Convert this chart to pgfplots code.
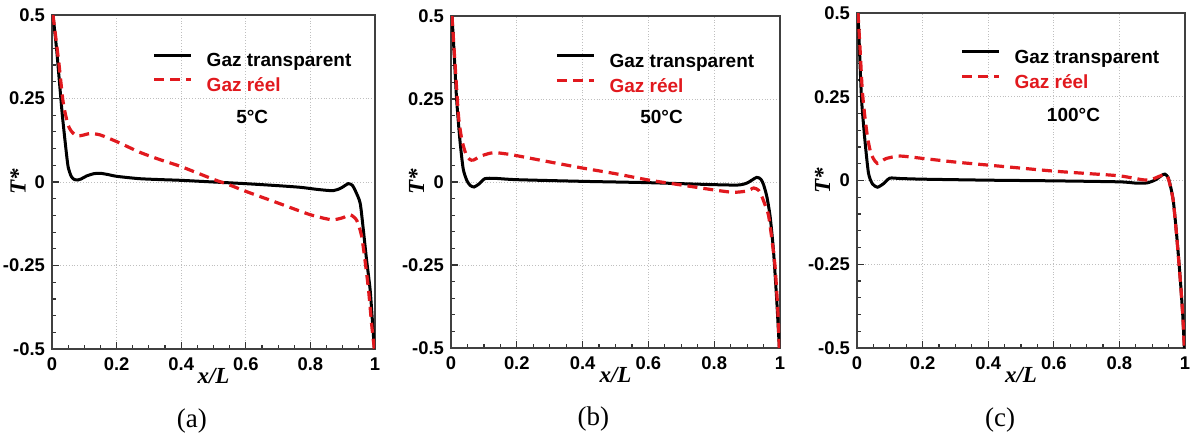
\documentclass[border=0pt]{standalone}
\usepackage{fontspec}
\setmainfont{Liberation Serif}
\setsansfont{Liberation Sans}
\usepackage{pgfplots}
\pgfplotsset{compat=1.18}
\definecolor{gazred}{RGB}{225,25,30}

\newcommand\tickfont{\sffamily\bfseries\fontsize{9.2}{10}\selectfont}
\newcommand\legfont{\sffamily\bfseries\fontsize{9.5}{11}\selectfont}
\newcommand\capfont{\fontsize{13.5}{15}\selectfont}

\pgfplotsset{
  panel/.style={
    scale only axis,
    xmin=0, xmax=1, ymin=-0.5, ymax=0.5,
    xtick={0,0.2,0.4,0.6,0.8,1},
    xticklabels={0,0.2,0.4,0.6,0.8,1},
    ytick={-0.5,-0.25,0,0.25,0.5},
    yticklabels={-0.5,-0.25,0,0.25,0.5},
    minor x tick num=3, minor y tick num=4,
    tick align=inside, xtick pos=bottom, ytick pos=left,
    major tick length=3.5pt, minor tick length=2pt,
    tick style={black!80, line width=0.6pt},
    axis line style={black!75, line width=1pt},
    grid=major, grid style={densely dotted, gray!50, line width=0.4pt},
    tick label style={font=\tickfont},
    xticklabel style={yshift=-1pt},
    xlabel={\bfseries\itshape x/L},
    ylabel={\bfseries\itshape T*},
    label style={font=\fontsize{11.5}{13}\selectfont},
    xlabel style={at={(axis description cs:0.5,0)}, anchor=center, yshift=-13.5pt},
    ylabel style={at={(axis description cs:-0.105,0.5)}, anchor=center},
    legend cell align=left,
    legend image code/.code={\draw[##1] (0pt,3.3pt) -- (18.5pt,3.3pt);},
    legend style={draw=none, fill=none, inner sep=0pt, row sep=4pt,
      column sep=7pt, font=\legfont, nodes={inner sep=0pt}},
    blk/.style={black, line width=1.5pt, smooth, tension=0.4},
    rd/.style={gazred, line width=1.6pt, dash pattern=on 5pt off 3pt, smooth, tension=0.4},
  }
}

\begin{document}
\begin{tikzpicture}
\useasboundingbox (-26pt,-46pt) rectangle (570pt,174.5pt);

% (a) 5 C
\begin{axis}[panel, at={(0pt,0pt)}, width=161.5pt, height=167pt,
    legend style={at={(0.31,0.886)}, anchor=north west},
    extra description/.code={\node[font=\capfont] at (0.433,-0.215) {(a)};}]
\addplot[blk] coordinates {
(0.003,0.5) (0.014,0.4) (0.023,0.3) (0.032,0.2) (0.043,0.1) (0.05,0.045)
(0.06,0.016) (0.07,0.007) (0.08,0.006) (0.09,0.009) (0.107,0.018) (0.13,0.025)
(0.15,0.026) (0.175,0.022) (0.2,0.017) (0.27,0.01) (0.34,0.007) (0.4,0.005)
(0.5,0.0) (0.6,-0.005) (0.7,-0.011) (0.77,-0.016) (0.82,-0.022) (0.87,-0.026)
(0.895,-0.018) (0.917,-0.005) (0.93,-0.01) (0.94,-0.028) (0.954,-0.063)
(0.963,-0.135) (0.974,-0.234) (0.985,-0.323) (0.993,-0.43) (0.998,-0.5)};
\addlegendentry{Gaz transparent}
\addplot[rd] coordinates {
(0.003,0.5) (0.012,0.43) (0.022,0.35) (0.033,0.25) (0.04,0.21) (0.05,0.17)
(0.06,0.152) (0.076,0.138) (0.095,0.14) (0.118,0.145) (0.149,0.141) (0.2,0.121)
(0.272,0.089) (0.334,0.067) (0.4,0.046) (0.5,0.008) (0.55,-0.009) (0.6,-0.028)
(0.7,-0.063) (0.8,-0.098) (0.866,-0.113) (0.9,-0.107) (0.923,-0.098) (0.94,-0.11)
(0.948,-0.125) (0.959,-0.164) (0.969,-0.234) (0.98,-0.323) (0.99,-0.43) (0.998,-0.5)};
\addlegendentry{\textcolor{gazred}{Gaz réel}}
\node[font=\legfont] at (axis description cs:0.62,0.695) {5°C};
\end{axis}

% (b) 50 C
\begin{axis}[panel, at={(199.5pt,0.5pt)}, width=164.5pt, height=166pt,
    legend style={at={(0.316,0.886)}, anchor=north west},
    extra description/.code={\node[font=\capfont] at (0.433,-0.215) {(b)};}]
\addplot[blk] coordinates {
(0.003,0.5) (0.01,0.38) (0.017,0.25) (0.027,0.127) (0.037,0.04) (0.048,0.005)
(0.058,-0.01) (0.07,-0.015) (0.085,-0.006) (0.103,0.01) (0.134,0.011) (0.2,0.007)
(0.4,0.002) (0.6,-0.002) (0.8,-0.008) (0.873,-0.009) (0.9,-0.003) (0.929,0.014)
(0.942,0.008) (0.95,-0.008) (0.96,-0.044) (0.97,-0.104) (0.98,-0.205)
(0.99,-0.355) (0.998,-0.5)};
\addlegendentry{Gaz transparent}
\addplot[rd] coordinates {
(0.003,0.5) (0.012,0.36) (0.023,0.197) (0.033,0.127) (0.045,0.085) (0.057,0.068)
(0.068,0.066) (0.09,0.078) (0.12,0.087) (0.14,0.088) (0.185,0.082) (0.286,0.063)
(0.4,0.042) (0.5,0.025) (0.6,0.006) (0.7,-0.009) (0.8,-0.024) (0.858,-0.031)
(0.9,-0.027) (0.92,-0.018) (0.935,-0.025) (0.945,-0.044) (0.955,-0.07)
(0.965,-0.1) (0.975,-0.17) (0.985,-0.255) (0.993,-0.38) (0.998,-0.5)};
\addlegendentry{\textcolor{gazred}{Gaz réel}}
\node[font=\legfont] at (axis description cs:0.64,0.696) {50°C};
\end{axis}

% (c) 100 C
\begin{axis}[panel, at={(402.5pt,0.5pt)}, width=164pt, height=167.5pt,
    legend style={at={(0.314,0.89)}, anchor=north west},
    extra description/.code={\node[font=\capfont] at (0.436,-0.215) {(c)};}]
\addplot[blk] coordinates {
(0.003,0.5) (0.008,0.38) (0.014,0.24) (0.024,0.121) (0.035,0.022) (0.047,-0.01)
(0.062,-0.02) (0.08,-0.01) (0.1,0.007) (0.131,0.006) (0.2,0.004) (0.4,0.001)
(0.6,-0.001) (0.8,-0.004) (0.853,-0.008) (0.885,-0.007) (0.91,0.002) (0.93,0.016)
(0.939,0.019) (0.948,0.01) (0.954,-0.01) (0.964,-0.058) (0.974,-0.157)
(0.985,-0.287) (0.993,-0.4) (0.998,-0.5)};
\addlegendentry{Gaz transparent}
\addplot[rd] coordinates {
(0.003,0.5) (0.01,0.38) (0.016,0.27) (0.024,0.19) (0.032,0.13) (0.04,0.09)
(0.05,0.065) (0.062,0.051) (0.075,0.058) (0.09,0.066) (0.131,0.073) (0.2,0.066)
(0.3,0.055) (0.4,0.046) (0.5,0.037) (0.6,0.028) (0.7,0.021) (0.8,0.014)
(0.873,0.002) (0.9,0.004) (0.92,0.012) (0.939,0.018) (0.948,0.008) (0.954,-0.012)
(0.964,-0.06) (0.974,-0.16) (0.985,-0.29) (0.993,-0.4) (0.998,-0.5)};
\addlegendentry{\textcolor{gazred}{Gaz réel}}
\node[font=\legfont] at (axis description cs:0.66,0.696) {100°C};
\end{axis}
\end{tikzpicture}
\end{document}
